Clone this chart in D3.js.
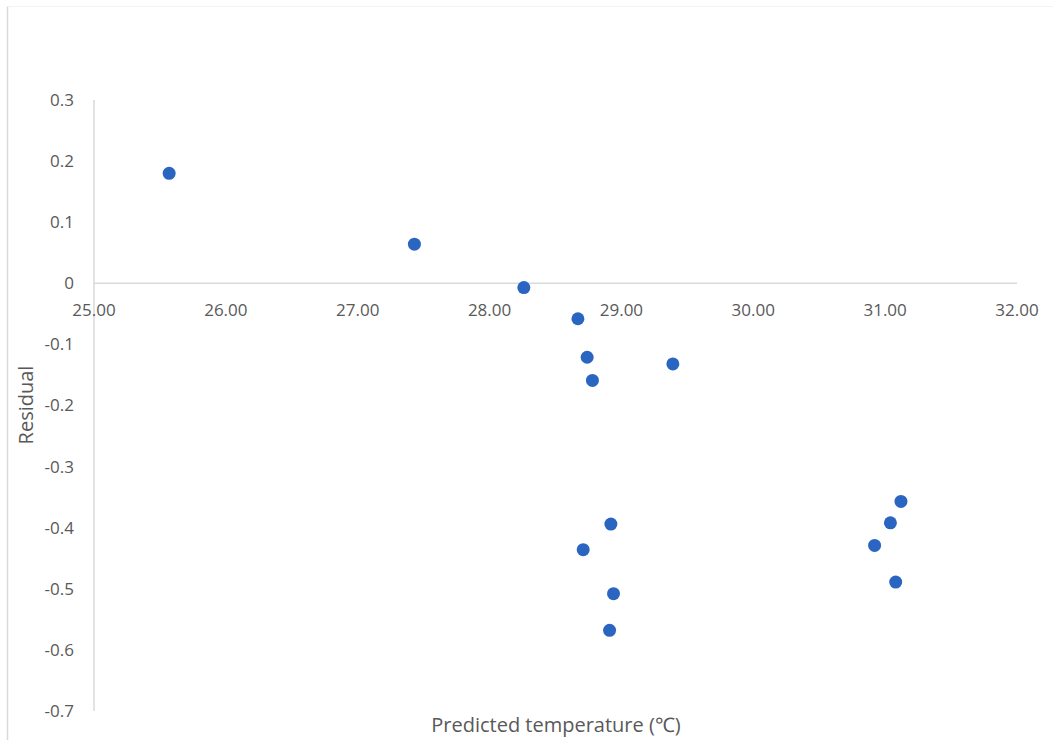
<!DOCTYPE html>
<html>
<head>
<meta charset="utf-8">
<script src="https://cdn.jsdelivr.net/npm/d3@7"></script>
<style>
  html, body { margin: 0; padding: 0; background: #fff; }
  svg text { font-family: "Open Sans", "Liberation Sans", sans-serif; fill: #595959; }
</style>
</head>
<body>
<svg id="chart" width="1053" height="740"></svg>
<script>
// Predicted temperature (°C) and residual for each observation
const predicted = [25.57, 27.43, 28.26, 28.67, 28.74, 28.78, 29.39, 28.92, 28.71, 28.94, 28.91, 31.12, 31.04, 30.92, 31.08];
const residual  = [0.180, 0.064, -0.007, -0.058, -0.121, -0.159, -0.132, -0.394, -0.436, -0.508, -0.568, -0.357, -0.392, -0.429, -0.489];

const xTicks = [25, 26, 27, 28, 29, 30, 31, 32];
const yTicks = [0.3, 0.2, 0.1, 0, -0.1, -0.2, -0.3, -0.4, -0.5, -0.6, -0.7];

const xTitle = "Predicted temperature (\u2103)";
const yTitle = "Residual";

const svg = d3.select("#chart");
const W = 1053, H = 740;

// plain hyphen-minus for negative numbers
const fmtY = d3.formatLocale({ decimal: ".", thousands: ",", grouping: [3], currency: ["", ""], minus: "-" }).format(".1f");
const fmtX = d3.format(".2f");

// outer chart-area border (left edge and faint top edge)
svg.append("line").attr("x1", 7.5).attr("x2", 7.5).attr("y1", 6).attr("y2", H)
  .attr("stroke", "#d9d9d9").attr("stroke-width", 1.5);
svg.append("line").attr("x1", 7).attr("x2", W).attr("y1", 6.5).attr("y2", 6.5)
  .attr("stroke", "#f2f2f2").attr("stroke-width", 1);

const x = d3.scaleLinear().domain([25, 32]).range([94, 1017]);
const y = d3.scaleLinear().domain([-0.7, 0.3]).range([711, 100]);

// vertical axis line at x = 25
svg.append("line")
  .attr("x1", x(25)).attr("x2", x(25))
  .attr("y1", y(0.3)).attr("y2", y(-0.7))
  .attr("stroke", "#d9d9d9").attr("stroke-width", 1.5);

// horizontal axis line at residual = 0
svg.append("line")
  .attr("x1", x(25)).attr("x2", x(32))
  .attr("y1", y(0)).attr("y2", y(0))
  .attr("stroke", "#d9d9d9").attr("stroke-width", 1.5);

// y tick labels
svg.append("g").selectAll("text").data(yTicks).join("text")
  .attr("x", 74)
  .attr("y", d => y(d))
  .attr("dy", "0.35em")
  .attr("text-anchor", "end")
  .attr("font-size", 17)
  .text(d => d === 0 ? "0" : fmtY(d));

// x tick labels, placed just below the zero line
svg.append("g").selectAll("text").data(xTicks).join("text")
  .attr("x", d => x(d))
  .attr("y", y(0) + 27)
  .attr("dy", "0.35em")
  .attr("text-anchor", "middle")
  .attr("font-size", 17)
  .text(d => fmtX(d));

// points
const pts = predicted.map((p, i) => ({ p, r: residual[i] }));
svg.append("g").selectAll("circle").data(pts).join("circle")
  .attr("cx", d => x(d.p))
  .attr("cy", d => y(d.r))
  .attr("r", 6.5)
  .attr("fill", "#2a65c1");

// axis titles
svg.append("text")
  .attr("x", 556).attr("y", 725)
  .attr("dy", "0.35em")
  .attr("text-anchor", "middle")
  .attr("font-size", 20)
  .text(xTitle);

svg.append("text")
  .attr("transform", "translate(26,405) rotate(-90)")
  .attr("dy", "0.35em")
  .attr("text-anchor", "middle")
  .attr("font-size", 20)
  .text(yTitle);
</script>
</body>
</html>
